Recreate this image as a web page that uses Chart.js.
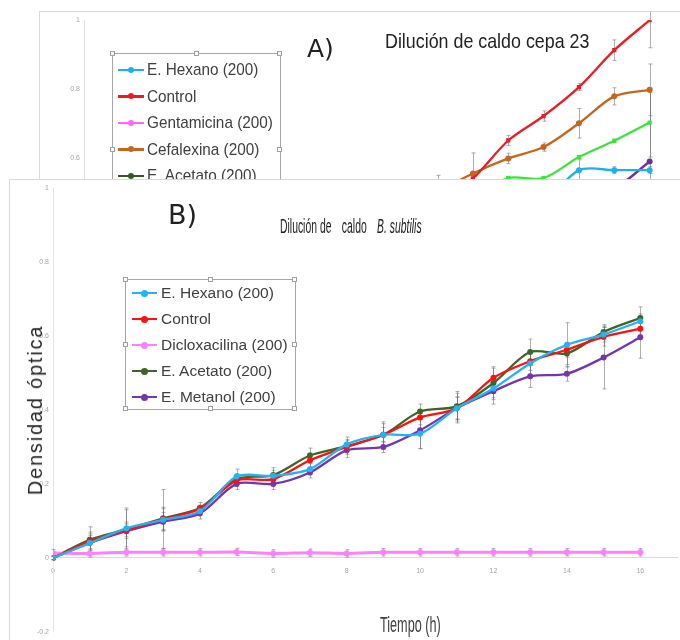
<!DOCTYPE html>
<html lang="es">
<head>
<meta charset="utf-8">
<title>Dilución de caldo</title>
<script src="https://cdn.jsdelivr.net/npm/chart.js@4.4.1/dist/chart.umd.min.js"></script>
<style>
  html, body { margin: 0; padding: 0; background: #fff; }
  body { position: relative; width: 680px; height: 640px; overflow: hidden; font-family: "Liberation Sans", Arial, sans-serif; }
  .panel { position: absolute; background: #fff; border-top: 1px solid #d9d9d9; border-left: 1px solid #d9d9d9; }
  #panelA { left: 39px; top: 11px; width: 700px; height: 460px; z-index: 1; }
  #panelB { left: 9px; top: 179px; width: 700px; height: 470px; z-index: 3; }
  .panel canvas { position: absolute; left: 0; top: 0; }
  .txt { position: absolute; white-space: nowrap; line-height: 1; color: #222; }
  .za { z-index: 2; }
  .zb { z-index: 4; }
  .sq { display: inline-block; transform-origin: 0 0; }
  .legend { position: absolute; border: 1px solid #a6a6a6; box-sizing: border-box; background: transparent; }
  .legend .row { position: relative; }
  .legend .line { position: absolute; }
  .legend .dot { position: absolute; border-radius: 50%; }
  .legend .lab { position: absolute; white-space: nowrap; color: #404040; line-height: 1; transform-origin: 0 50%; }
  .handle { position: absolute; width: 5px; height: 5px; background: #fff; border: 1px solid #a0a0a0; box-sizing: border-box; }
</style>
</head>
<body>
<div id="panelA" class="panel"><canvas id="chartA" width="648" height="430"></canvas></div>
<div class="txt za" style="left:307px; top:34px; font: 25px 'DejaVu Sans', sans-serif;">A)</div>
<div class="txt za" style="left:385px; top:30px; font-size:21px;"><span class="sq" style="transform: scaleX(0.85);">Dilución de caldo cepa 23</span></div>
<div id="legendA" class="legend za" style="left:112px; top:53px; width:169px; height:194px;"></div>

<div id="panelB" class="panel"><canvas id="chartB" width="670" height="460"></canvas></div>
<div class="txt zb" style="left:168px; top:199px; font: 27px 'DejaVu Sans', sans-serif;">B)</div>
<div class="txt zb" style="left:280px; top:216px; font-size:20px;"><span class="sq" style="transform: scaleX(0.52);">Dilución de<span style="margin-left:20px">caldo</span><i style="margin-left:20px">B. subtilis</i></span></div>
<div class="txt zb" style="left:35px; top:410px; font-size:20px; letter-spacing:1.8px; color:#262626; transform: translate(-50%, -50%) rotate(-90deg);">Densidad óptica</div>
<div class="txt zb" style="left:380px; top:614px; font-size:22px; color:#404040;"><span class="sq" style="transform: scaleX(0.575);">Tiempo (h)</span></div>
<div id="legendB" class="legend zb" style="left:125px; top:279px; width:171px; height:131px;"></div>

<script>
// horas de lectura
const hours = [0, 1, 2, 3, 4, 5, 6, 7, 8, 9, 10, 11, 12, 13, 14, 15, 16];
const xTicks = [0, 2, 4, 6, 8, 10, 12, 14, 16];
const yTicks = [-0.2, 0, 0.2, 0.4, 0.6, 0.8, 1];

// A) Dilución de caldo cepa 23
const aHexano      = [0, 0.03, 0.06, 0.09, 0.12, 0.16, 0.20, 0.24, 0.28, 0.32, 0.36, 0.40, 0.43, 0.47, 0.565, 0.565, 0.565];
const aControl     = [0, 0.04, 0.08, 0.12, 0.16, 0.21, 0.26, 0.31, 0.36, 0.41, 0.47, 0.541, 0.651, 0.722, 0.806, 0.913, 1.0];
const aGentamicina = [0.02, 0.018, 0.02, 0.021, 0.019, 0.02, 0.02, 0.022, 0.02, 0.019, 0.02, 0.021, 0.02, 0.02, 0.019, 0.02, 0.02];
const aCefalexina  = [0, 0.04, 0.08, 0.12, 0.17, 0.22, 0.27, 0.32, 0.37, 0.43, 0.50, 0.555, 0.599, 0.632, 0.701, 0.779, 0.798];
const aAcetato     = [0, 0.03, 0.05, 0.08, 0.11, 0.14, 0.17, 0.20, 0.23, 0.26, 0.29, 0.32, 0.35, 0.38, 0.41, 0.43, 0.45];
const aCloroformo  = [0, 0.03, 0.07, 0.10, 0.14, 0.18, 0.23, 0.28, 0.33, 0.39, 0.44, 0.49, 0.542, 0.542, 0.603, 0.650, 0.703];
const aMetanol     = [0, 0.02, 0.05, 0.08, 0.10, 0.13, 0.16, 0.20, 0.24, 0.28, 0.32, 0.36, 0.40, 0.44, 0.47, 0.51, 0.59];

const aHexanoErr      = [0.005, 0.01, 0.01, 0.01, 0.01, 0.01, 0.01, 0.01, 0.01, 0.01, 0.01, 0.01, 0.01, 0.02, 0.03, 0.01, 0.01];
const aControlErr     = [0.005, 0.01, 0.01, 0.01, 0.01, 0.01, 0.01, 0.01, 0.01, 0.01, 0.01, 0.02, 0.015, 0.015, 0.01, 0.03, 0.08];
const aGentamicinaErr = [0.005, 0.005, 0.005, 0.005, 0.005, 0.005, 0.005, 0.005, 0.005, 0.005, 0.005, 0.005, 0.005, 0.005, 0.005, 0.005, 0.005];
const aCefalexinaErr  = [0.005, 0.01, 0.01, 0.01, 0.01, 0.01, 0.01, 0.01, 0.01, 0.02, 0.05, 0.06, 0.015, 0.012, 0.043, 0.025, 0.075];
const aAcetatoErr     = [0.005, 0.01, 0.01, 0.01, 0.01, 0.01, 0.01, 0.01, 0.01, 0.01, 0.01, 0.01, 0.01, 0.01, 0.01, 0.01, 0.01];
const aCloroformoErr  = [0.005, 0.01, 0.01, 0.01, 0.01, 0.01, 0.01, 0.01, 0.01, 0.01, 0.01, 0.01, 0.005, 0.005, 0.005, 0.005, 0.1];
const aMetanolErr     = [0.005, 0.01, 0.01, 0.01, 0.01, 0.01, 0.01, 0.01, 0.01, 0.01, 0.01, 0.01, 0.01, 0.01, 0.01, 0.01, 0.2];

// B) Dilución de caldo B. subtilis
const bHexano   = [0, 0.040, 0.080, 0.103, 0.126, 0.220, 0.222, 0.240, 0.307, 0.333, 0.336, 0.405, 0.458, 0.526, 0.576, 0.604, 0.640];
const bControl  = [0, 0.045, 0.075, 0.105, 0.133, 0.209, 0.213, 0.264, 0.300, 0.333, 0.380, 0.405, 0.487, 0.532, 0.563, 0.598, 0.620];
const bDiclox   = [0.013, 0.012, 0.015, 0.015, 0.015, 0.016, 0.012, 0.014, 0.012, 0.015, 0.015, 0.015, 0.015, 0.015, 0.015, 0.015, 0.015];
const bAcetato  = [0, 0.049, 0.077, 0.107, 0.135, 0.213, 0.224, 0.277, 0.302, 0.333, 0.396, 0.410, 0.473, 0.557, 0.553, 0.611, 0.649];
const bMetanol  = [0, 0.040, 0.072, 0.098, 0.120, 0.200, 0.200, 0.231, 0.291, 0.300, 0.345, 0.405, 0.451, 0.491, 0.498, 0.542, 0.597];

const bHexanoErr  = [0.005, 0.03, 0.05, 0.03, 0.01, 0.02, 0.015, 0.015, 0.02, 0.02, 0.04, 0.03, 0.03, 0.03, 0.06, 0.02, 0.02];
const bControlErr = [0.005, 0.02, 0.06, 0.08, 0.01, 0.015, 0.015, 0.02, 0.02, 0.035, 0.02, 0.04, 0.03, 0.025, 0.02, 0.025, 0.015];
const bDicloxErr  = [0.01, 0.01, 0.01, 0.01, 0.01, 0.01, 0.01, 0.01, 0.01, 0.01, 0.01, 0.01, 0.01, 0.01, 0.01, 0.01, 0.01];
const bAcetatoErr = [0.005, 0.035, 0.02, 0.03, 0.015, 0.015, 0.02, 0.02, 0.015, 0.03, 0.02, 0.04, 0.04, 0.035, 0.03, 0.02, 0.03];
const bMetanolErr = [0.005, 0.02, 0.02, 0.025, 0.015, 0.015, 0.015, 0.015, 0.02, 0.015, 0.05, 0.03, 0.035, 0.03, 0.02, 0.085, 0.057];

Chart.defaults.font.family = '"Liberation Sans", Arial, sans-serif';

// barras de error, dibujadas con las escalas del grafico
const errorBars = {
  id: 'errorBars',
  beforeDatasetsDraw(chart) {
    const ctx = chart.ctx;
    const x = chart.scales.x, y = chart.scales.y;
    ctx.save();
    ctx.strokeStyle = 'rgba(110,110,110,0.55)';
    ctx.lineWidth = 1;
    chart.data.datasets.forEach(ds => {
      if (!ds.errors) return;
      ds.data.forEach((p, j) => {
        const e = ds.errors[j];
        if (!e) return;
        const px = Math.round(x.getPixelForValue(p.x)) + 0.5;
        const top = y.getPixelForValue(p.y + e);
        const bot = y.getPixelForValue(p.y - e);
        ctx.beginPath();
        ctx.moveTo(px, top); ctx.lineTo(px, bot);
        ctx.moveTo(px - 2, top); ctx.lineTo(px + 2, top);
        ctx.moveTo(px - 2, bot); ctx.lineTo(px + 2, bot);
        ctx.stroke();
      });
    });
    ctx.restore();
  }
};

function serie(label, color, ys, errs, extra) {
  return Object.assign({
    label: label,
    borderColor: color,
    backgroundColor: color,
    data: hours.map((h, i) => ({ x: h, y: ys[i] })),
    errors: errs,
    borderWidth: 2.3,
    pointRadius: 3,
    pointHoverRadius: 3,
    pointBorderWidth: 0,
    tension: 0.3
  }, extra || {});
}

const fmt = v => (v === 0 ? '0' : String(+v.toFixed(1)));

function opciones(yWidth) {
  return {
    responsive: false,
    animation: false,
    events: [],
    layout: { padding: { top: 5, bottom: 5, left: 0, right: 0 } },
    plugins: { legend: { display: false }, tooltip: { enabled: false } },
    scales: {
      x: {
        type: 'linear', min: 0, max: 17, position: { y: 0 },
        afterBuildTicks: s => { s.ticks = xTicks.map(v => ({ value: v })); },
        afterFit: s => { s.height = 0; },
        grid: { display: false, drawTicks: false },
        border: { display: true, color: '#d9d9d9', width: 1 },
        ticks: { font: { size: 7 }, color: '#a6a6a6', padding: 9, maxRotation: 0, autoSkip: false }
      },
      y: {
        min: -0.2, max: 1,
        afterBuildTicks: s => { s.ticks = yTicks.map(v => ({ value: v })); },
        afterFit: s => { s.width = yWidth; },
        grid: { display: false, drawTicks: false },
        border: { display: true, color: '#e3e3e3', width: 1 },
        ticks: { font: { size: 7 }, color: '#a6a6a6', padding: 4, callback: fmt }
      }
    }
  };
}

const chartA = new Chart(document.getElementById('chartA'), {
  type: 'line',
  data: {
    datasets: [
      serie('E. Hexano (200)', '#1eb0ee', aHexano, aHexanoErr),
      serie('Control', '#ea1c24', aControl, aControlErr, { pointStyle: 'rect' }),
      serie('Gentamicina (200)', '#ff66ff', aGentamicina, aGentamicinaErr),
      serie('Cefalexina (200)', '#c4661f', aCefalexina, aCefalexinaErr),
      serie('E. Acetato (200)', '#385723', aAcetato, aAcetatoErr),
      serie('E. Cloroformo (200)', '#38e63a', aCloroformo, aCloroformoErr, { pointStyle: 'rect' }),
      serie('E. Metanol (200)', '#7030a0', aMetanol, aMetanolErr)
    ]
  },
  options: opciones(44),
  plugins: [errorBars]
});

const chartB = new Chart(document.getElementById('chartB'), {
  type: 'line',
  data: {
    datasets: [
      serie('E. Hexano (200)', '#22b4f0', bHexano, bHexanoErr),
      serie('Control', '#ff1010', bControl, bControlErr),
      serie('Dicloxacilina (200)', '#ff80ff', bDiclox, bDicloxErr, { borderWidth: 3 }),
      serie('E. Acetato (200)', '#3d6528', bAcetato, bAcetatoErr),
      serie('E. Metanol (200)', '#7535ad', bMetanol, bMetanolErr)
    ]
  },
  options: opciones(43),
  plugins: [errorBars]
});

// leyendas en HTML, con los datos de cada grafico
function leyenda(el, chart, cfg) {
  const w = el.offsetWidth, h = el.offsetHeight;
  chart.data.datasets.forEach((ds, i) => {
    const row = document.createElement('div');
    row.className = 'row';
    row.style.height = cfg.rowH + 'px';
    if (i === 0) row.style.marginTop = cfg.top + 'px';
    const ln = document.createElement('div');
    ln.className = 'line';
    ln.style.cssText = 'left:' + cfg.x0 + 'px;width:' + (cfg.x1 - cfg.x0) + 'px;height:2.5px;top:' + (cfg.rowH / 2 - 1.25) + 'px;background:' + ds.borderColor;
    const dot = document.createElement('div');
    dot.className = 'dot';
    const r = cfg.dot;
    dot.style.cssText = 'width:' + 2 * r + 'px;height:' + 2 * r + 'px;left:' + ((cfg.x0 + cfg.x1) / 2 - r) + 'px;top:' + (cfg.rowH / 2 - r) + 'px;background:' + ds.borderColor;
    const lab = document.createElement('div');
    lab.className = 'lab';
    lab.textContent = ds.label;
    lab.style.cssText = 'left:' + cfg.tx + 'px;top:' + (cfg.rowH / 2 - cfg.font / 2) + 'px;font-size:' + cfg.font + 'px;transform:scaleX(' + cfg.sx + ')';
    row.appendChild(ln); row.appendChild(dot); row.appendChild(lab);
    el.appendChild(row);
  });
  [[0, 0], [0.5, 0], [1, 0], [0, 0.5], [1, 0.5], [0, 1], [0.5, 1], [1, 1]].forEach(p => {
    const hd = document.createElement('div');
    hd.className = 'handle';
    hd.style.left = (p[0] * (w - 2) - 3) + 'px';
    hd.style.top = (p[1] * (h - 2) - 3) + 'px';
    el.appendChild(hd);
  });
}

leyenda(document.getElementById('legendA'), chartA, { rowH: 26.5, top: 2.5, x0: 5, x1: 31, dot: 3, tx: 34, font: 17, sx: 0.9 });
leyenda(document.getElementById('legendB'), chartB, { rowH: 26, top: 0, x0: 6, x1: 31, dot: 3.5, tx: 35, font: 15.5, sx: 1 });
</script>
</body>
</html>
